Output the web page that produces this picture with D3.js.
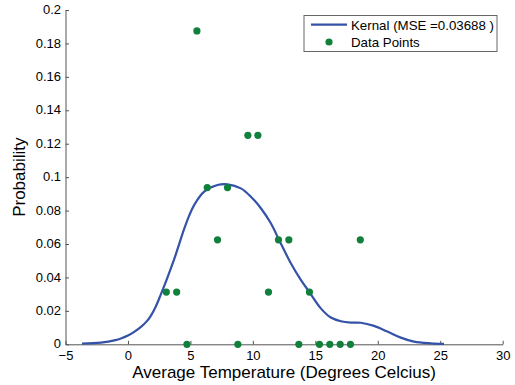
<!DOCTYPE html>
<html>
<head>
<meta charset="utf-8">
<script src="https://cdn.jsdelivr.net/npm/d3@7"></script>
<style>
  html, body { margin: 0; padding: 0; background: #fff; }
  svg { display: block; font-family: "Liberation Sans", Arial, Helvetica, sans-serif; }
</style>
</head>
<body>
<svg id="chart" width="515" height="385"></svg>
<script>
// ---- Data ----
const pointX = [3.07, 3.9, 4.72, 5.52, 6.35, 7.17, 7.97, 8.8, 9.6, 10.4, 11.25, 12.05, 12.88, 13.68, 14.53, 15.33, 16.16, 16.99, 17.81, 18.6];
const pointY = [0.03125, 0.03125, 0, 0.1875, 0.09375, 0.0625, 0.09375, 0, 0.125, 0.125, 0.03125, 0.0625, 0.0625, 0, 0.03125, 0, 0, 0, 0, 0.0625];

const kernelX = [-3.68, -2.16, -1.0, -0.56, 0, 0.5, 1.04, 1.5, 1.84, 2.24, 2.64, 3.04, 3.44, 3.84, 4.5, 4.9, 5.3, 6.1, 7.17, 7.97, 9.04, 9.84, 10.64, 11.44, 12.1, 13.04, 13.84, 14.5, 15.44, 16.24, 17.04, 17.84, 18.64, 19.7, 20.77, 21.84, 22.9, 24.24, 25.3];
const kernelY = [0.0004, 0.001, 0.0025, 0.0035, 0.0052, 0.0074, 0.0104, 0.0137, 0.0172, 0.0228, 0.03, 0.0375, 0.0455, 0.054, 0.069, 0.077, 0.0833, 0.0913, 0.0953, 0.0957, 0.0933, 0.0883, 0.0814, 0.0724, 0.0624, 0.0485, 0.0385, 0.0315, 0.0215, 0.016, 0.0138, 0.013, 0.0129, 0.011, 0.0076, 0.004, 0.0016, 0.0006, 0.0003];

const xTicks = [-5, 0, 5, 10, 15, 20, 25, 30];
const yTicks = [0, 0.02, 0.04, 0.06, 0.08, 0.1, 0.12, 0.14, 0.16, 0.18, 0.2];
const yTickLabels = ["0", "0.02", "0.04", "0.06", "0.08", "0.1", "0.12", "0.14", "0.16", "0.18", "0.2"];
const xTickLabels = ["\u22125", "0", "5", "10", "15", "20", "25", "30"];

const legendLabels = ["Kernal (MSE =0.03688 )", "Data Points"];
const xTitle = "Average Temperature (Degrees Celcius)";
const yTitle = "Probability";

// ---- Layout ----
const margin = { left: 65.5, right: 12.3, top: 10, bottom: 40.7 };
const W = 515, H = 385;
const curveColor = "#3452a7";
const dotColor = "#11803c";
const axisColor = "#555";

const svg = d3.select("#chart");
const x = d3.scaleLinear().domain([-5, 30]).range([margin.left, W - margin.right]);
const y = d3.scaleLinear().domain([0, 0.2]).range([H - margin.bottom, margin.top]);

// axes
const xAxis = d3.axisBottom(x).tickValues(xTicks).tickFormat((d, i) => xTickLabels[i]).tickSizeInner(-3.5).tickSizeOuter(0).tickPadding(7);
const yAxis = d3.axisLeft(y).tickValues(yTicks).tickFormat((d, i) => yTickLabels[i]).tickSizeInner(-3.5).tickSizeOuter(0).tickPadding(4.5);

const gx = svg.append("g").attr("transform", `translate(0,${y(0)})`).call(xAxis);
const gy = svg.append("g").attr("transform", `translate(${x(-5)},0)`).call(yAxis);
[gx, gy].forEach(g => {
  g.select(".domain").attr("stroke", axisColor).attr("stroke-width", 1);
  g.selectAll(".tick line").attr("stroke", axisColor).attr("stroke-width", 1);
  g.selectAll(".tick text").attr("fill", "#000").style("font-size", "13px").style("font-family", "'Liberation Sans', Arial, sans-serif");
});
gx.selectAll(".tick text").attr("dy", "0.68em");
gy.selectAll(".tick text").attr("dy", "0.28em");

// kernel curve
const kernelData = kernelX.map((d, i) => [d, kernelY[i]]);
svg.append("path")
  .datum(kernelData)
  .attr("fill", "none")
  .attr("stroke", curveColor)
  .attr("stroke-width", 2.2)
  .attr("d", d3.line().x(d => x(d[0])).y(d => y(d[1])).curve(d3.curveCatmullRom.alpha(0.5)));

// data points
const pts = pointX.map((d, i) => [d, pointY[i]]);
svg.append("g").selectAll("circle").data(pts).join("circle")
  .attr("cx", d => x(d[0]))
  .attr("cy", d => y(d[1]))
  .attr("r", 3.6)
  .attr("fill", dotColor);

// titles
svg.append("text")
  .attr("x", (x(-5) + x(30)) / 2)
  .attr("y", 378)
  .attr("text-anchor", "middle")
  .style("font-size", "17px")
  .attr("fill", "#000")
  .text(xTitle);

svg.append("text")
  .attr("transform", `translate(24.5,${(y(0) + y(0.2)) / 2}) rotate(-90)`)
  .attr("text-anchor", "middle")
  .style("font-size", "17px")
  .attr("fill", "#000")
  .text(yTitle);

// legend
const lg = svg.append("g");
lg.append("rect")
  .attr("x", 304).attr("y", 15.5)
  .attr("width", 193).attr("height", 36)
  .attr("fill", "#fff").attr("stroke", "#666").attr("stroke-width", 1);
lg.append("line")
  .attr("x1", 311).attr("x2", 347).attr("y1", 24.7).attr("y2", 24.7)
  .attr("stroke", curveColor).attr("stroke-width", 2.2);
lg.append("circle").attr("cx", 329).attr("cy", 42).attr("r", 3.6).attr("fill", dotColor);
lg.selectAll("text.lab").data(legendLabels).join("text")
  .attr("class", "lab")
  .attr("x", 351)
  .attr("y", (d, i) => 29.5 + i * 17)
  .style("font-size", "13.3px")
  .attr("fill", "#000")
  .text(d => d);
</script>
</body>
</html>
